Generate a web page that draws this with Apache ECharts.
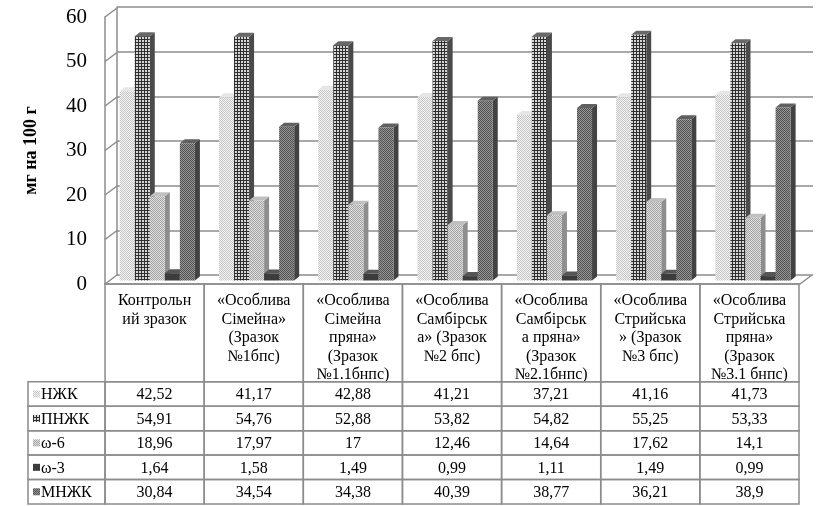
<!DOCTYPE html>
<html>
<head>
<meta charset="utf-8">
<script src="https://cdn.jsdelivr.net/npm/echarts@6/dist/echarts.min.js"></script>
<style>
html, body { margin: 0; padding: 0; background: #fff; }
#chart { width: 819px; height: 506px; }
</style>
</head>
<body>
<div id="chart"></div>
<script>
// categories (pre-wrapped as in the table header)
const categories = [
  'Контрольн\nий зразок',
  '«Особлива\nСімейна»\n(Зразок\n№1бпс)',
  '«Особлива\nСімейна\nпряна»\n(Зразок\n№1.1бнпс)',
  '«Особлива\nСамбірськ\nа» (Зразок\n№2 бпс)',
  '«Особлива\nСамбірськ\nа пряна»\n(Зразок\n№2.1бнпс)',
  '«Особлива\nСтрийська\n» (Зразок\n№3 бпс)',
  '«Особлива\nСтрийська\nпряна»\n(Зразок\n№3.1 бнпс)'
];
const seriesNames = ['НЖК', 'ПНЖК', 'ω-6', 'ω-3', 'МНЖК'];
const nzhk   = [42.52, 41.17, 42.88, 41.21, 37.21, 41.16, 41.73];
const pnzhk  = [54.91, 54.76, 52.88, 53.82, 54.82, 55.25, 53.33];
const omega6 = [18.96, 17.97, 17, 12.46, 14.64, 17.62, 14.1];
const omega3 = [1.64, 1.58, 1.49, 0.99, 1.11, 1.49, 0.99];
const mnzhk  = [30.84, 34.54, 34.38, 40.39, 38.77, 36.21, 38.9];
const yTicks = [0, 10, 20, 30, 40, 50, 60];

const allValues = [nzhk, pnzhk, omega6, omega3, mnzhk];

// fake 3d geometry
const WALL_DX = 12, WALL_DY = -9;
const BAR_DX = 5, BAR_DY = -4;
const BAR_SHIFT = -3.5;
const BAR_OFF = 0.148, BAR_W = 0.1515;
const LEG_MIN = -0.777;
const LINE = '#8c8c8c';
const FONT = 'Liberation Serif';

function pattern(size, bg, fg, cells) {
  const c = document.createElement('canvas');
  c.width = size; c.height = size;
  const ctx = c.getContext('2d');
  ctx.fillStyle = bg;
  ctx.fillRect(0, 0, size, size);
  ctx.fillStyle = fg;
  cells.forEach(p => ctx.fillRect(p[0], p[1], 1, 1));
  return {image: c, repeat: 'repeat'};
}

const fronts = [
  pattern(2, '#f3f3f3', '#c6c6c6', [[0, 0], [1, 1]]),
  pattern(3, '#d6d6d6', '#2e2e2e', [[0, 0], [1, 0], [2, 0], [0, 1], [0, 2]]),
  pattern(2, '#e0e0e0', '#a2a2a2', [[0, 0], [1, 1]]),
  '#3c3c3c',
  pattern(2, '#959595', '#525252', [[0, 0], [1, 1]])
];
const sides = ['#b4b4b4', '#4a4a4a', '#8e8e8e', '#262626', '#424242'];
const tops  = ['#e6e6e6', '#686868', '#c0c0c0', '#555555', '#606060'];

function barRender(j) {
  return function (params, api) {
    const i = api.value(0), v = api.value(1);
    const bw = api.size([1, 0])[0];
    const c = api.coord([i, v]);
    const base = api.coord([i, 0]);
    const x = c[0] - bw / 2 + bw * BAR_OFF + j * bw * BAR_W;
    const w = bw * BAR_W;
    const yT = c[1] + BAR_SHIFT, yB = base[1] + BAR_SHIFT;
    return {
      type: 'group',
      children: [
        {type: 'polygon', shape: {points: [[x + w, yB], [x + w + BAR_DX, yB + BAR_DY], [x + w + BAR_DX, yT + BAR_DY], [x + w, yT]]}, style: {fill: sides[j]}},
        {type: 'polygon', shape: {points: [[x, yT], [x + BAR_DX, yT + BAR_DY], [x + w + BAR_DX, yT + BAR_DY], [x + w, yT]]}, style: {fill: tops[j]}},
        {type: 'rect', shape: {x: x, y: yT, width: w, height: yB - yT}, style: {fill: fronts[j]}}
      ]
    };
  };
}

function wallRender(params, api) {
  const v = api.value(1);
  const bw = api.size([1, 0])[0];
  const p = api.coord([0, v]);
  const x = p[0] - bw / 2;
  const children = [
    {type: 'line', shape: {x1: x, y1: p[1], x2: x + WALL_DX, y2: p[1] + WALL_DY}, style: {stroke: LINE, lineWidth: 1.5}}
  ];
  if (v === 0) {
    const q = api.coord([categories.length - 1, 0]);
    const xr = q[0] + bw / 2;
    children.push({type: 'line', shape: {x1: xr, y1: q[1], x2: xr + WALL_DX, y2: q[1] + WALL_DY}, style: {stroke: LINE, lineWidth: 1.5}});
  }
  return {type: 'group', children: children};
}

// table cells
const cells = [];
categories.forEach((c, i) => cells.push({col: i, w: 1, row: 0, h: 4, text: c, kind: 'head'}));
allValues.forEach((vals, s) => {
  cells.push({col: LEG_MIN, w: -LEG_MIN, row: 4 + s, h: 1, text: seriesNames[s], kind: 'leg', s: s});
  vals.forEach((v, i) => cells.push({col: i, w: 1, row: 4 + s, h: 1, text: String(v).replace('.', ','), kind: 'val'}));
});

function tableRender(params, api) {
  const cell = cells[params.dataIndex];
  const a = api.coord([cell.col, cell.row]);
  const b = api.coord([cell.col + cell.w, cell.row + cell.h]);
  const children = [
    {type: 'rect', shape: {x: a[0], y: a[1], width: b[0] - a[0], height: b[1] - a[1]}, style: {fill: 'none', stroke: LINE, lineWidth: 1.5}}
  ];
  const txt = {fontFamily: FONT, fontSize: 16, fill: '#000'};
  if (cell.kind === 'head') {
    children.push({type: 'text', style: Object.assign({text: cell.text, x: (a[0] + b[0]) / 2, y: a[1] + 8, align: 'center', verticalAlign: 'top', lineHeight: 18.5}, txt)});
  } else if (cell.kind === 'val') {
    children.push({type: 'text', style: Object.assign({text: cell.text, x: (a[0] + b[0]) / 2, y: (a[1] + b[1]) / 2 + 1, align: 'center', verticalAlign: 'middle'}, txt)});
  } else {
    const cy = (a[1] + b[1]) / 2;
    children.push({type: 'rect', shape: {x: a[0] + 5, y: cy - 3.5, width: 7, height: 7}, style: {fill: fronts[cell.s]}});
    children.push({type: 'text', style: Object.assign({text: cell.text, x: a[0] + 13, y: cy + 1, align: 'left', verticalAlign: 'middle'}, txt)});
  }
  return {type: 'group', children: children};
}

const chart = echarts.init(document.getElementById('chart'));
chart.setOption({
  animation: false,
  backgroundColor: '#fff',
  grid: [
    {left: 117, right: 6, top: 7, bottom: 231},
    {left: 105, right: 19, top: 17, bottom: 222},
    {left: 28, right: 20, top: 284, bottom: 2}
  ],
  xAxis: [
    {gridIndex: 0, type: 'category', data: categories, show: false},
    {gridIndex: 1, type: 'category', data: categories,
      axisLine: {show: true, lineStyle: {color: LINE, width: 1.5}},
      axisTick: {show: false}, axisLabel: {show: false}},
    {gridIndex: 2, type: 'value', min: LEG_MIN, max: categories.length, show: false}
  ],
  yAxis: [
    {gridIndex: 0, type: 'value', min: 0, max: 60, interval: 10,
      axisLine: {show: true, lineStyle: {color: LINE, width: 1.5}},
      axisTick: {show: false}, axisLabel: {show: false},
      splitLine: {show: true, lineStyle: {color: LINE, width: 1.5}}},
    {gridIndex: 1, type: 'value', min: 0, max: 60, interval: 10,
      name: 'мг на 100 г', nameLocation: 'middle', nameRotate: 90, nameGap: 65,
      nameTextStyle: {fontFamily: FONT, fontSize: 18, fontWeight: 'bold', color: '#000'},
      axisLine: {show: true, lineStyle: {color: LINE, width: 1.5}},
      axisTick: {show: false},
      axisLabel: {fontFamily: FONT, fontSize: 21, color: '#000', margin: 18},
      splitLine: {show: false}},
    {gridIndex: 2, type: 'value', min: 0, max: 9, inverse: true, show: false}
  ],
  series: [
    {type: 'custom', name: 'walls', xAxisIndex: 1, yAxisIndex: 1, clip: false,
      renderItem: wallRender, data: yTicks.map(v => [0, v])},
    ...allValues.map((vals, j) => ({
      type: 'custom', name: seriesNames[j], xAxisIndex: 1, yAxisIndex: 1, clip: false,
      renderItem: barRender(j), data: vals.map((v, i) => [i, v])
    })),
    {type: 'custom', name: 'table', xAxisIndex: 2, yAxisIndex: 2, clip: false,
      renderItem: tableRender, data: cells.map(c => [c.col, c.row])}
  ]
});
</script>
</body>
</html>
